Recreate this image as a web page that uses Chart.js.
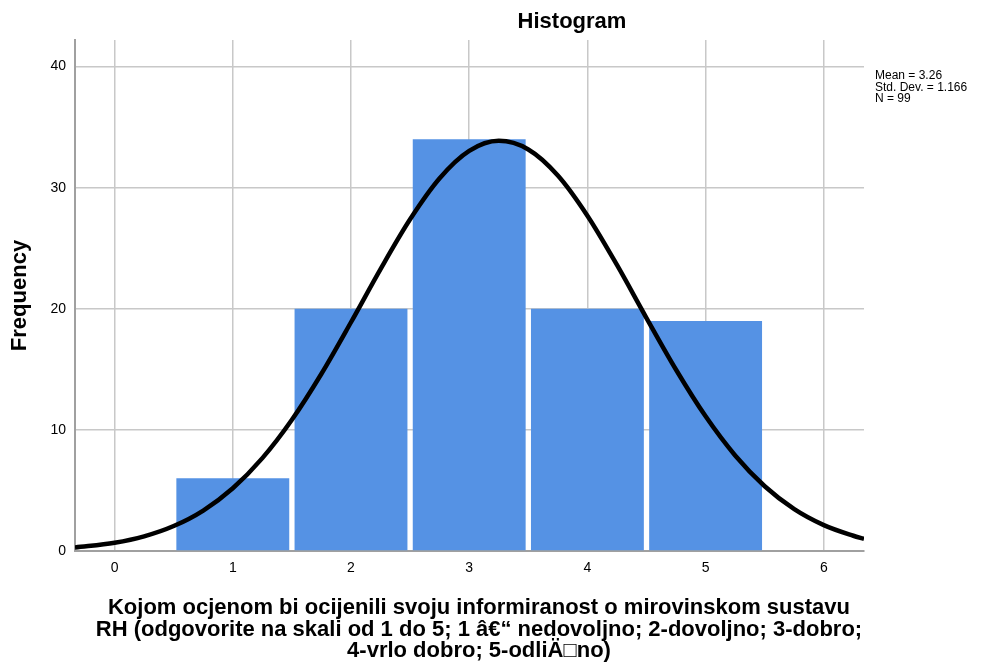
<!DOCTYPE html>
<html>
<head>
<meta charset="utf-8">
<script src="https://cdn.jsdelivr.net/npm/chart.js@4.4.1/dist/chart.umd.min.js"></script>
<style>
  body { margin: 0; background: #fff; }
  #wrap { position: relative; width: 990px; height: 664px; font-family: "Liberation Sans", Arial, sans-serif; }
  #title { position: absolute; left: 422px; width: 300px; top: 8px; text-align: center; font-weight: bold; font-size: 22px; color: #000; }
  #stats { position: absolute; left: 875px; top: 70px; font-size: 12px; line-height: 11.5px; color: #000; }
  #xtitle { position: absolute; left: 0; width: 958px; top: 596px; text-align: center; font-weight: bold; font-size: 22px; line-height: 21.5px; color: #000; }
</style>
</head>
<body>
<div id="wrap">
  <canvas id="histogram" width="990" height="664"></canvas>
  <div id="title">Histogram</div>
  <div id="stats">Mean = 3.26<br>Std. Dev. = 1.166<br>N = 99</div>
  <div id="xtitle"></div>
</div>
<script>
'use strict';

// bar data: score categories and their counts
var scores = [1, 2, 3, 4, 5];
var frequency = [6, 20, 34, 20, 19];

// normal curve
var curveX = [-0.335, 0, 0.25, 0.5, 0.75, 1, 1.25, 1.5, 1.75, 2, 2.25, 2.5, 2.75, 3, 3.25,
  3.5, 3.75, 4, 4.25, 4.5, 4.75, 5, 5.25, 5.5, 5.75, 6, 6.25, 6.34];
var curveY = [0.29, 0.68, 1.21, 2.06, 3.34, 5.18, 7.67, 10.84, 14.64, 18.89, 23.28, 27.39, 30.78, 33.04, 33.87,
  33.16, 31.01, 27.69, 23.62, 19.24, 14.97, 11.12, 7.89, 5.35, 3.46, 2.14, 1.26, 1.0];

// axis ticks
var xTicks = [0, 1, 2, 3, 4, 5, 6];
var yTicks = [0, 10, 20, 30, 40];

var xTitle = [
  'Kojom ocjenom bi ocijenili svoju informiranost o mirovinskom sustavu',
  'RH (odgovorite na skali od 1 do 5; 1 â€“ nedovoljno; 2-dovoljno; 3-dobro;',
  '4-vrlo dobro; 5-odliÄ\u25A1no)'
];

// x axis title as text lines under the chart
var xTitleBox = document.getElementById('xtitle');
xTitle.forEach(function(line) {
  var d = document.createElement('div');
  d.textContent = line;
  xTitleBox.appendChild(d);
});

createHistogram();

function createHistogram() {
  var ctx = document.getElementById('histogram');
  var barData = scores.map(function(s, i) { return { x: s, y: frequency[i] }; });
  var lineData = curveX.map(function(x, i) { return { x: x, y: curveY[i] }; });

  new Chart(ctx, {
    type: 'bar',
    data: {
      datasets: [
        {
          type: 'bar',
          data: barData,
          backgroundColor: '#5592e4',
          barPercentage: 0.955,
          categoryPercentage: 1,
          order: 1
        },
        {
          type: 'line',
          data: lineData,
          borderColor: '#000',
          borderWidth: 4.5,
          pointRadius: 0,
          fill: false,
          cubicInterpolationMode: 'monotone',
          order: 0
        }
      ]
    },
    options: {
      responsive: false,
      animation: false,
      layout: { padding: { top: 40, right: 126, left: 0, bottom: 0 } },
      plugins: {
        legend: { display: false },
        tooltip: { enabled: false }
      },
      scales: {
        x: {
          type: 'linear',
          min: -0.335,
          max: 6.34,
          offset: false,
          grid: { offset: false, color: '#c8c8c8', lineWidth: 1.5, drawTicks: false },
          border: { display: true, color: '#a0a0a0', width: 2 },
          afterBuildTicks: function(s) { s.ticks = xTicks.map(function(v) { return { value: v }; }); },
          afterFit: function(s) { s.height = 113; },
          ticks: {
            padding: 9,
            color: '#000',
            font: { family: 'Liberation Sans', size: 14 }
          }
        },
        y: {
          min: 0,
          max: 42.2,
          grid: { color: '#c8c8c8', lineWidth: 1.5, drawTicks: false },
          border: { display: true, color: '#a0a0a0', width: 2 },
          afterBuildTicks: function(s) { s.ticks = yTicks.map(function(v) { return { value: v }; }); },
          afterFit: function(s) { s.width = 75; },
          ticks: {
            padding: 9,
            color: '#000',
            font: { family: 'Liberation Sans', size: 14 }
          },
          title: {
            display: true,
            text: 'Frequency',
            color: '#000',
            font: { family: 'Liberation Sans', size: 22, weight: 'bold' },
            padding: { top: 7, bottom: 0 }
          }
        }
      }
    }
  });
}
</script>
</body>
</html>
